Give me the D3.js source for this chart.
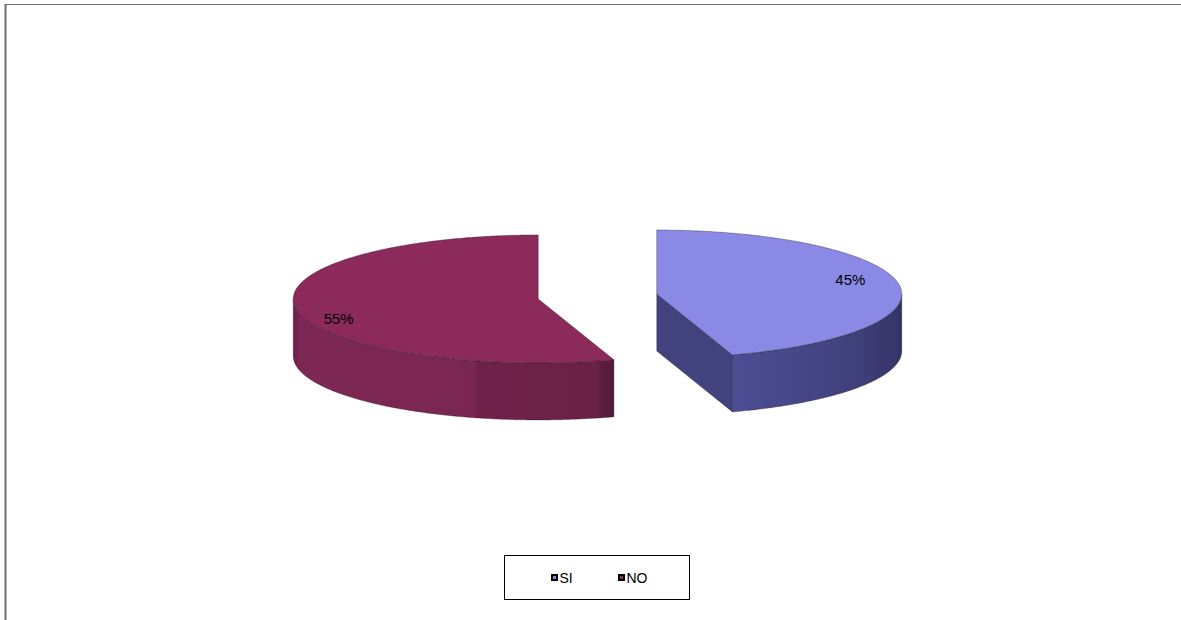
<!DOCTYPE html>
<html>
<head>
<meta charset="utf-8">
<script src="https://cdn.jsdelivr.net/npm/d3@7"></script>
<style>
  html, body { margin: 0; padding: 0; background: #fff; }
  svg { display: block; }
  text { font-family: Arial, "Liberation Sans", sans-serif; fill: #000; }
</style>
</head>
<body>
<svg id="chart" width="1181" height="620"></svg>
<script>
// Survey answers
const categories = ["SI", "NO"];
const values = [45, 55];
const valueLabels = ["45%", "55%"];

const topColors = ["#8a8ae6", "#8d2a5c"];

const W = 1181, H = 620;
const svg = d3.select("#chart");
const defs = svg.append("defs");

// chart frame
svg.append("line").attr("x1", 5).attr("x2", W).attr("y1", 4.5).attr("y2", 4.5)
  .attr("stroke", "#6e6e6e").attr("stroke-width", 1.2);
svg.append("line").attr("x1", 5.5).attr("x2", 5.5).attr("y1", 4).attr("y2", H)
  .attr("stroke", "#6e6e6e").attr("stroke-width", 2);

// projected 3D pie geometry
const cx0 = 597.5, cy0 = 296.5;
const rx = 245, ry = 64, depth = 57, explode = 60;

const pie = d3.pie().sort(null).value(d => d).startAngle(0).endAngle(2 * Math.PI);
const arcs = pie(values);

// angle measured clockwise from 12 o'clock
const px = (c, a, f = 1) => c[0] + f * rx * Math.sin(a);
const py = (c, a, f = 1) => c[1] - f * ry * Math.cos(a);

function rimPoints(c, a0, a1, dy = 0) {
  const n = Math.max(2, Math.ceil((a1 - a0) / 0.01));
  return d3.range(n + 1).map(i => {
    const a = a0 + (a1 - a0) * i / n;
    return [px(c, a), py(c, a) + dy];
  });
}
const line = d3.line();

// horizontal shading for the curved walls
function hGrad(id, x1, x2, stops) {
  defs.append("linearGradient").attr("id", id)
    .attr("gradientUnits", "userSpaceOnUse")
    .attr("x1", x1).attr("x2", x2).attr("y1", 0).attr("y2", 0)
    .selectAll("stop").data(stops).join("stop")
    .attr("offset", s => s[0]).attr("stop-color", s => s[1]);
}

const wallStops = [
  [[0, "#4d4d94"], [0.35, "#47478a"], [0.75, "#3f3f79"], [0.97, "#36366a"], [1, "#2f2f5e"]],
  [[0, "#6a2048"], [0.025, "#7d2754"], [0.56, "#7a2652"], [0.575, "#6f2249"], [0.95, "#6a2146"], [0.965, "#5b1c3e"], [1, "#541a3a"]]
];
const sideColors = ["#42427f", "#5e1d40"];

const labelAdjust = { SI: [0, -7], NO: [-6, 12] };

arcs.forEach((d, i) => {
  const mid = (d.startAngle + d.endAngle) / 2;
  const c = [cx0 + explode * Math.sin(mid), cy0 - explode * Math.cos(mid) * ry / rx];
  const g = svg.append("g").attr("class", "slice-" + categories[i]);

  // outer curved wall, front half only
  const f0 = Math.max(d.startAngle, Math.PI / 2);
  const f1 = Math.min(d.endAngle, 3 * Math.PI / 2);
  if (f1 > f0) {
    const gid = "wall" + i;
    hGrad(gid, Math.min(px(c, f0), px(c, f1)), Math.max(px(c, f0), px(c, f1)), wallStops[i]);
    const top = rimPoints(c, f0, f1);
    const bot = rimPoints(c, f0, f1, depth).reverse();
    g.append("path").attr("d", line(top.concat(bot)) + "Z")
      .attr("fill", `url(#${gid})`)
      .attr("stroke", "#1a1a1a").attr("stroke-opacity", 0.45).attr("stroke-width", 0.7);
  }

  // radial side walls facing the viewer
  const walls = [];
  if (Math.sin(d.endAngle) > 1e-6) walls.push(d.endAngle);
  if (Math.sin(d.startAngle) < -1e-6) walls.push(d.startAngle);
  walls.forEach(a => {
    const pts = [c, [px(c, a), py(c, a)], [px(c, a), py(c, a) + depth], [c[0], c[1] + depth]];
    g.append("path").attr("d", line(pts) + "Z")
      .attr("fill", sideColors[i])
      .attr("stroke", "#1a1a1a").attr("stroke-opacity", 0.45).attr("stroke-width", 0.7);
  });

  // top face
  const face = [c].concat(rimPoints(c, d.startAngle, d.endAngle));
  g.append("path").attr("d", line(face) + "Z")
    .attr("fill", topColors[i])
    .attr("stroke", "#1a1a1a").attr("stroke-opacity", 0.5).attr("stroke-width", 0.7);

  // value label
  const adj = labelAdjust[categories[i]];
  g.append("text")
    .attr("x", px(c, mid, 0.8) + adj[0])
    .attr("y", py(c, mid, 0.8) + adj[1])
    .attr("text-anchor", "middle")
    .attr("dominant-baseline", "central")
    .attr("font-size", 15)
    .text(valueLabels[i]);
});

// legend
const legend = svg.append("g").attr("class", "legend");
legend.append("rect").attr("x", 504.5).attr("y", 555.5).attr("width", 185).attr("height", 44)
  .attr("fill", "#fff").attr("stroke", "#000").attr("stroke-width", 1);
const legendX = d3.scalePoint().domain(categories).range([551, 618]);
categories.forEach((cat, i) => {
  const x = legendX(cat);
  legend.append("rect").attr("x", x + 1).attr("y", 575).attr("width", 5).attr("height", 5)
    .attr("fill", topColors[i]).attr("stroke", "#000").attr("stroke-width", 2);
  legend.append("text").attr("x", x + 8.5).attr("y", 583)
    .attr("font-size", 14).text(cat);
});
</script>
</body>
</html>
